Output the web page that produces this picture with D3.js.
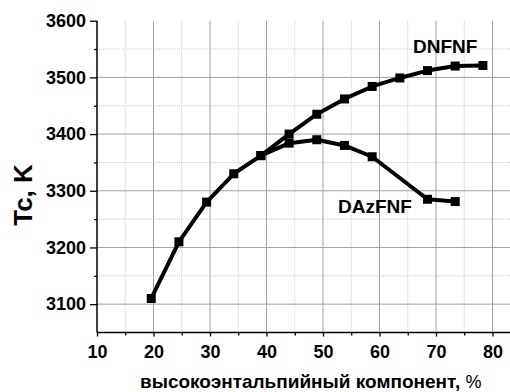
<!DOCTYPE html>
<html><head><meta charset="utf-8">
<script src="https://cdn.jsdelivr.net/npm/d3@7"></script>
<style>body{margin:0;background:#fff}svg{display:block}</style>
</head><body>
<svg id="c" width="510" height="392"></svg>
<script>
const xValsDN = [19.6, 24.5, 29.4, 34.2, 39.0, 44.0, 48.9, 53.8, 58.7, 63.6, 68.5, 73.4, 78.3];
const tcDN    = [3110, 3210, 3280, 3330, 3362, 3400, 3435, 3462, 3484, 3499, 3512, 3520, 3521];
const xValsDAz = [39.0, 44.0, 48.9, 53.8, 58.7, 68.5, 73.4];
const tcDAz    = [3362, 3384, 3390, 3380, 3360, 3285, 3281];
const seriesNames = ["DNFNF", "DAzFNF"];
const xTicks = [10, 20, 30, 40, 50, 60, 70, 80];
const xMinor = [15, 25, 35, 45, 55, 65, 75];
const yTicks = [3100, 3200, 3300, 3400, 3500, 3600];
const yMinor = [3150, 3250, 3350, 3450, 3550];
const xTitle = "высокоэнтальпийный компонент, ";
const xTitleUnit = "%";
const yTitle = "Tc, K";

const svg = d3.select("#c");
const FONT = "'Liberation Sans', Arial, sans-serif";
const L = 97, R = 510, T = 20.7, B = 332.5;
const x = d3.scaleLinear().domain([10, 80]).range([97, 492.5]);
const y = d3.scaleLinear().domain([3050, 3600]).range([B, T]);

// minor grid
const g = svg.append("g");
g.selectAll(".mgx").data(xMinor).enter().append("line")
  .attr("x1", d => x(d)).attr("x2", d => x(d)).attr("y1", T).attr("y2", B)
  .attr("stroke", "#c8c8c8").attr("stroke-width", 1).attr("stroke-dasharray", "1,1");
g.selectAll(".mgy").data(yMinor).enter().append("line")
  .attr("x1", L).attr("x2", R).attr("y1", d => y(d)).attr("y2", d => y(d))
  .attr("stroke", "#c8c8c8").attr("stroke-width", 1).attr("stroke-dasharray", "1,1");
// major grid
g.selectAll(".Mgx").data(xTicks.filter(d => d > 10)).enter().append("line")
  .attr("x1", d => x(d)).attr("x2", d => x(d)).attr("y1", T).attr("y2", B)
  .attr("stroke", "#a0a0a0").attr("stroke-width", 1);
g.selectAll(".Mgy").data(yTicks.filter(d => d < 3600)).enter().append("line")
  .attr("x1", L).attr("x2", R).attr("y1", d => y(d)).attr("y2", d => y(d))
  .attr("stroke", "#a0a0a0").attr("stroke-width", 1);

// axes
const xAxis = d3.axisBottom(x).tickValues(xTicks).tickSize(4).tickPadding(9).tickFormat(d3.format("d"));
const xAxisMinor = d3.axisBottom(x).tickValues(xMinor).tickSize(3).tickFormat("");
const yAxis = d3.axisLeft(y).tickValues(yTicks).tickSize(7).tickPadding(4).tickFormat(d3.format("d"));
const yAxisMinor = d3.axisLeft(y).tickValues(yMinor).tickSize(3).tickFormat("");

function styleAxis(sel) {
  sel.select(".domain").remove();
  sel.selectAll("line").attr("stroke", "#000").attr("stroke-width", 1.3);
  sel.selectAll("text").attr("font-family", FONT).attr("font-weight", "bold").attr("font-size", 18).attr("fill", "#000");
}
svg.append("g").attr("transform", `translate(0,${B})`).call(xAxis).call(styleAxis);
svg.append("g").attr("transform", `translate(0,${B})`).call(xAxisMinor).call(styleAxis);
svg.append("g").attr("transform", `translate(${L},0)`).call(yAxis).call(styleAxis);
svg.append("g").attr("transform", `translate(${L},0)`).call(yAxisMinor).call(styleAxis);
svg.append("line").attr("x1", L).attr("x2", R).attr("y1", B).attr("y2", B).attr("stroke", "#000").attr("stroke-width", 1.5);
svg.append("line").attr("x1", L).attr("x2", L).attr("y1", T).attr("y2", B).attr("stroke", "#000").attr("stroke-width", 1.5);

// series
const series = [
  {name: seriesNames[0], pts: xValsDN.map((v, i) => [v, tcDN[i]])},
  {name: seriesNames[1], pts: xValsDAz.map((v, i) => [v, tcDAz[i]])}
];
const line = d3.line().x(d => x(d[0])).y(d => y(d[1]));
series.forEach(s => {
  svg.append("path").attr("d", line(s.pts)).attr("fill", "none").attr("stroke", "#000").attr("stroke-width", 4).attr("stroke-linejoin", "round");
  svg.selectAll(null).data(s.pts).enter().append("rect")
    .attr("x", d => x(d[0]) - 4.5).attr("y", d => y(d[1]) - 4.5).attr("width", 9).attr("height", 9).attr("fill", "#000");
});

// series labels
svg.append("text").attr("x", 413).attr("y", 53).text(seriesNames[0])
  .attr("font-family", FONT).attr("font-weight", "bold").attr("font-size", 19);
svg.append("text").attr("x", 338).attr("y", 213).text(seriesNames[1])
  .attr("font-family", FONT).attr("font-weight", "bold").attr("font-size", 19);

// axis titles
const xt = svg.append("text").attr("x", 140).attr("y", 388).attr("font-family", FONT).attr("font-size", 19);
xt.append("tspan").attr("font-weight", "bold").text(xTitle);
xt.append("tspan").attr("font-weight", "normal").attr("font-size", 18).text(xTitleUnit);
svg.append("text").attr("transform", "translate(32,195) rotate(-90)").attr("text-anchor", "middle")
  .attr("font-family", FONT).attr("font-weight", "bold").attr("font-size", 26).text(yTitle);
</script>
</body></html>
